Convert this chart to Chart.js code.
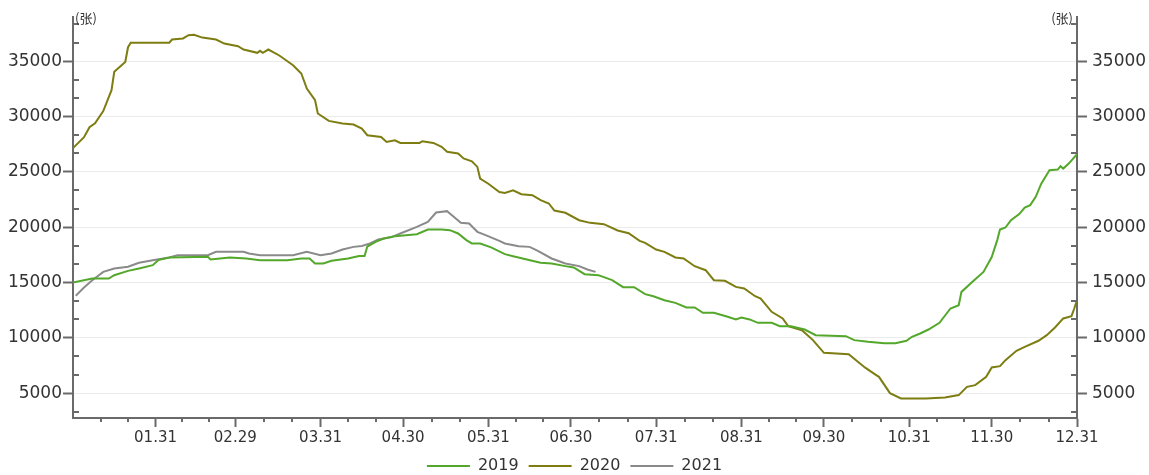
<!DOCTYPE html>
<html><head><meta charset="utf-8">
<script src="https://cdn.jsdelivr.net/npm/chart.js@4.4.0/dist/chart.umd.min.js"></script>
<style>html,body{margin:0;padding:0;background:#fff;overflow:hidden}</style>
</head><body>
<canvas id="c" width="1149" height="475"></canvas>
<script>
// ---- data (x = day of year, 0 = Jan 1, 365 = Dec 31) ----
const seriesNames = ['2019', '2020', '2021'];

const days2019 = [0,7,13,15,20,24,29,31,35,49,50,57,63,68,78,83,86,88,91,94,100,104,106,107,110,113,117,125,129,134,137,140,143,145,148,152,157,160,165,170,174,179,182,186,191,192,196,200,204,208,211,215,219,223,226,229,233,238,241,243,246,249,254,257,261,266,270,281,284,289,295,299,303,305,308,311,315,319,322,323,327,331,334,336,337,339,341,344,346,348,350,352,355,358,359,360,362,365];
const values2019 = [15000,15360,15360,15660,16050,16270,16570,17020,17260,17320,17080,17260,17170,17020,17020,17170,17170,16720,16720,16960,17170,17400,17400,18250,18670,18980,19190,19370,19790,19790,19730,19430,18830,18530,18530,18170,17560,17380,17080,16780,16720,16480,16360,15750,15660,15570,15210,14580,14580,13950,13760,13400,13160,12740,12740,12260,12260,11900,11660,11840,11660,11350,11350,11050,11050,10750,10240,10150,9790,9640,9500,9500,9730,10090,10390,10750,11350,12650,12950,14150,15060,15960,17300,18830,19790,19970,20630,21180,21780,21990,22740,23930,25150,25210,25510,25300,25750,26600];

const days2020 = [0,4,6,8,11,14,15,19,20,21,35,36,40,42,44,47,52,55,60,62,67,68,69,71,75,80,83,85,88,89,93,98,102,105,107,112,114,117,119,126,127,131,134,136,140,142,145,147,148,151,155,157,160,163,167,170,173,175,179,184,188,193,198,202,206,208,212,215,219,222,226,230,233,237,241,244,248,250,254,258,260,265,269,273,282,288,292,293,297,301,310,317,322,325,328,332,334,337,339,343,346,351,354,357,360,363,364,365];
const values2020 = [27150,28130,29040,29400,30500,32380,34040,34930,36270,36680,36680,36960,37060,37350,37400,37140,36960,36600,36360,36060,35760,35940,35760,36060,35520,34640,33890,32530,31480,30280,29610,29370,29280,28920,28310,28160,27710,27860,27620,27620,27770,27620,27260,26810,26660,26210,25960,25450,24400,23930,23180,23100,23340,22980,22890,22440,22140,21500,21300,20630,20390,20270,19700,19450,18760,18580,17980,17770,17260,17170,16470,16110,15210,15150,14600,14460,13760,13550,12350,11750,11050,10690,9790,8640,8520,7300,6630,6470,5000,4520,4520,4610,4820,5570,5720,6470,7320,7440,7980,8820,9180,9730,10240,10930,11750,11960,12650,13400];

const days2021 = [1,4,7,11,15,20,24,29,35,38,49,52,62,64,68,80,85,90,94,98,102,105,108,111,116,119,125,129,132,136,137,141,144,147,150,155,157,162,166,169,174,179,184,187,190];
const values2021 = [13800,14550,15210,15960,16270,16420,16780,17020,17260,17470,17470,17770,17770,17620,17470,17470,17770,17470,17620,17980,18220,18300,18530,18890,19120,19430,20030,20480,21330,21450,21240,20390,20330,19580,19280,18760,18530,18280,18220,17860,17170,16720,16480,16180,15960];

const tickDays = [30,59,90,120,151,181,212,243,273,304,334,365];
const tickLabels = ['01.31','02.29','03.31','04.30','05.31','06.30','07.31','08.31','09.30','10.31','11.30','12.31'];
const yTicks = [5000,10000,15000,20000,25000,30000,35000];
const unitLabel = '(张)';

// ---- styles ----
const colors = ['#53a82b', '#7d7d12', '#8a8a8a'];
const FONT = 'DejaVu Sans';
const AXIS = '#6a6a6a';
const TEXT = '#333333';

function pts(d, v) { return d.map((x, i) => ({x: x, y: v[i]})); }

const minorTicks = {
  id: 'minorTicks',
  afterDraw(chart) {
    const ctx = chart.ctx, a = chart.chartArea;
    const xs = chart.scales.x, yl = chart.scales.y;
    ctx.save();
    ctx.strokeStyle = AXIS; ctx.lineWidth = 2;
    const bounds = [0].concat(tickDays);
    for (let i = 0; i < bounds.length - 1; i++) {
      for (let k = 1; k < 3; k++) {
        const v = bounds[i] + (bounds[i+1] - bounds[i]) * k / 3;
        const px = Math.round(xs.getPixelForValue(v));
        ctx.beginPath(); ctx.moveTo(px, a.bottom); ctx.lineTo(px, a.bottom + 4); ctx.stroke();
      }
    }
    const step = (yTicks[1] - yTicks[0]) / 3;
    for (let k = -6; k <= 30; k++) {
      if (k % 3 === 0) continue;
      const v = yTicks[0] + k * step;
      if (v <= yl.min || v >= yl.max) continue;
      const py = Math.round(yl.getPixelForValue(v));
      ctx.beginPath(); ctx.moveTo(a.left, py); ctx.lineTo(a.left + 6, py); ctx.stroke();
      ctx.beginPath(); ctx.moveTo(a.right - 6, py); ctx.lineTo(a.right, py); ctx.stroke();
    }
    ctx.fillStyle = TEXT;
    ctx.font = '13px "Noto Sans CJK SC"';
    ctx.textBaseline = 'middle';
    ctx.textAlign = 'left';
    ctx.fillText(unitLabel, a.left + 2, a.top + 1);
    ctx.textAlign = 'right';
    ctx.fillText(unitLabel, a.right - 4, a.top + 1);
    ctx.restore();
  }
};

const legendHeight = {
  id: 'legendHeight',
  beforeInit(chart) {
    if (!chart.legend) return;
    const orig = chart.legend.fit;
    chart.legend.fit = function() { orig.call(this); this.height = 27; };
  }
};

const yCommon = {
  type: 'linear', min: 2750, max: 39000,
  afterBuildTicks: s => { s.ticks = yTicks.map(v => ({value: v})); },
  border: {display: true, color: AXIS, width: 2},
};

new Chart(document.getElementById('c'), {
  type: 'line',
  data: {
    datasets: [
      {label: seriesNames[0], data: pts(days2019, values2019), borderColor: colors[0], backgroundColor: colors[0]},
      {label: seriesNames[1], data: pts(days2020, values2020), borderColor: colors[1], backgroundColor: colors[1]},
      {label: seriesNames[2], data: pts(days2021, values2021), borderColor: colors[2], backgroundColor: colors[2]}
    ].map(d => Object.assign(d, {borderWidth: 2, pointRadius: 0, tension: 0, fill: false}))
  },
  options: {
    responsive: false, animation: false, devicePixelRatio: 1,
    layout: {padding: {top: 17, left: 0, right: 0, bottom: 0}},
    plugins: {
      tooltip: {enabled: false},
      legend: {
        position: 'bottom',
        labels: {usePointStyle: true, pointStyle: 'line', pointStyleWidth: 43, padding: 10,
                 color: TEXT, font: {family: FONT, size: 16}}
      }
    },
    scales: {
      x: {
        type: 'linear', min: 0, max: 365,
        afterBuildTicks: s => { s.ticks = tickDays.map(v => ({value: v})); },
        afterFit: s => { s.height = 30; },
        ticks: {autoSkip: false, maxRotation: 0, padding: 2, color: TEXT, font: {family: FONT, size: 15},
                callback: v => tickLabels[tickDays.indexOf(v)]},
        grid: {display: true, drawOnChartArea: false, drawTicks: true, tickLength: 9, tickColor: AXIS, tickWidth: 2},
        border: {display: true, color: AXIS, width: 2}
      },
      y: Object.assign({}, yCommon, {
        position: 'left',
        afterFit: s => { s.width = 73; },
        ticks: {padding: 1, color: TEXT, font: {family: FONT, size: 17}, callback: v => String(v)},
        grid: {display: true, color: '#ebebeb', lineWidth: 1, drawTicks: true, tickLength: 10, tickColor: AXIS, tickWidth: 2}
      }),
      y1: Object.assign({}, yCommon, {
        position: 'right',
        afterFit: s => { s.width = 72; },
        ticks: {padding: 5, color: TEXT, font: {family: FONT, size: 17}, callback: v => String(v)},
        grid: {display: true, drawOnChartArea: false, drawTicks: true, tickLength: 10, tickColor: AXIS, tickWidth: 2}
      })
    }
  },
  plugins: [minorTicks, legendHeight]
});
</script>
</body></html>
